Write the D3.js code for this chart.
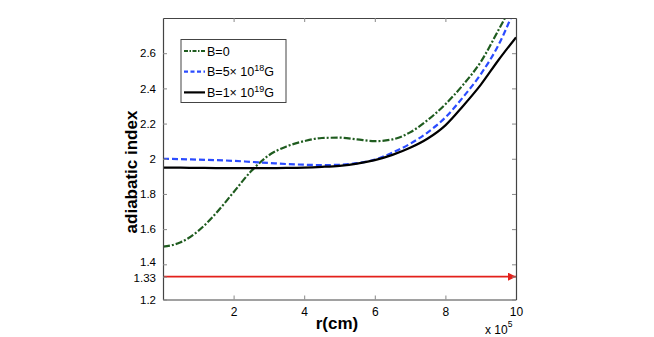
<!DOCTYPE html>
<html>
<head>
<meta charset="utf-8">
<script src="https://cdn.jsdelivr.net/npm/d3@7"></script>
<style>
  body { margin: 0; background: #fff; }
  svg { display: block; font-family: "Liberation Sans", Arial, sans-serif; }
  .tick text { font-size: 12px; fill: #000; }
  .tick line { stroke: #888; }
  .domain { stroke: #444; }
</style>
</head>
<body>
<div id="wrapper"></div>
<script>
// radius in units of 1e5 cm
const rValues = [0, 0.5, 1, 1.5, 2, 2.5, 3, 3.5, 4, 4.5, 5, 5.5, 6, 6.5, 7, 7.5, 8, 8.5, 9, 9.5, 10]

const gammaB0 = [1.50, 1.525, 1.59, 1.69, 1.81, 1.93, 2.02, 2.07, 2.10, 2.118, 2.12, 2.11, 2.10, 2.11, 2.15, 2.22, 2.31, 2.42, 2.55, 2.73, 2.92]
const gammaB5e18 = [2.00, 1.998, 1.995, 1.992, 1.988, 1.982, 1.976, 1.97, 1.966, 1.964, 1.966, 1.975, 1.995, 2.035, 2.085, 2.15, 2.235, 2.35, 2.48, 2.645, 2.87]
const gammaB1e19 = [1.95, 1.949, 1.948, 1.947, 1.947, 1.947, 1.947, 1.948, 1.95, 1.954, 1.96, 1.972, 1.992, 2.022, 2.062, 2.115, 2.19, 2.30, 2.42, 2.56, 2.69]

const relativisticGamma = 1.33

const xTicks = [2, 4, 6, 8, 10]
const yTicks = [1.2, 1.33, 1.4, 1.6, 1.8, 2, 2.2, 2.4, 2.6]
const yTickLabels = ["1.2", "1.33", "1.4", "1.6", "1.8", "2", "2.2", "2.4", "2.6"]

const seriesNames = ["B=0", "B=5× 10", "B=1× 10"]
const seriesSup = ["", "18", "19"]
const seriesUnit = ["", "G", "G"]

function drawChart() {

  // 1. Dimensions
  let dimensions = {
    width: 654,
    height: 337,
    margin: { top: 18, right: 138, bottom: 37.5, left: 163 },
  }
  dimensions.boundedWidth = dimensions.width - dimensions.margin.left - dimensions.margin.right
  dimensions.boundedHeight = dimensions.height - dimensions.margin.top - dimensions.margin.bottom

  const series = [
    { values: gammaB0, color: "#1f5c1f", dash: "7,2,2,2" },
    { values: gammaB5e18, color: "#2b4cff", dash: "6,3" },
    { values: gammaB1e19, color: "#000", dash: null },
  ]

  // 2. Canvas
  const wrapper = d3.select("#wrapper")
    .append("svg")
      .attr("width", dimensions.width)
      .attr("height", dimensions.height)

  const defs = wrapper.append("defs")
  defs.append("clipPath")
      .attr("id", "plot-clip")
    .append("rect")
      .attr("width", dimensions.boundedWidth)
      .attr("height", dimensions.boundedHeight)
  defs.append("marker")
      .attr("id", "arrow")
      .attr("viewBox", "0 0 10 10")
      .attr("refX", 10)
      .attr("refY", 5)
      .attr("markerWidth", 10)
      .attr("markerHeight", 8)
      .attr("markerUnits", "userSpaceOnUse")
      .attr("orient", "auto")
    .append("path")
      .attr("d", "M0,0 L10,5 L0,10 Z")
      .attr("fill", "#e3201b")

  const bounds = wrapper.append("g")
      .attr("transform", `translate(${dimensions.margin.left}, ${dimensions.margin.top})`)

  // 3. Scales
  const xScale = d3.scaleLinear()
    .domain([0, 10])
    .range([0, dimensions.boundedWidth])

  const yScale = d3.scaleLinear()
    .domain([1.2, 2.8])
    .range([dimensions.boundedHeight, 0])

  // 4. Data
  const lineGenerator = d3.line()
    .x((d, i) => xScale(rValues[i]))
    .y(d => yScale(d))
    .curve(d3.curveMonotoneX)

  const lines = bounds.append("g")
      .attr("clip-path", "url(#plot-clip)")

  series.forEach(s => {
    lines.append("path")
        .attr("d", lineGenerator(s.values))
        .attr("fill", "none")
        .attr("stroke", s.color)
        .attr("stroke-width", 2.2)
        .attr("stroke-dasharray", s.dash)
  })

  bounds.append("line")
      .attr("x1", xScale(0))
      .attr("x2", xScale(10))
      .attr("y1", yScale(relativisticGamma))
      .attr("y2", yScale(relativisticGamma))
      .attr("stroke", "#e3201b")
      .attr("stroke-width", 1.6)
      .attr("marker-end", "url(#arrow)")

  // 5. Axes (box with inward ticks)
  const tickLen = 4
  const xAxis = bounds.append("g")
      .attr("transform", `translate(0, ${dimensions.boundedHeight})`)
      .call(d3.axisBottom(xScale).tickValues(xTicks).tickSizeInner(-tickLen).tickSizeOuter(0).tickPadding(6))
  xAxis.selectAll(".tick text").attr("dy", "0.85em")

  bounds.append("g")
      .call(d3.axisTop(xScale).tickValues(xTicks).tickSizeInner(-tickLen).tickSizeOuter(0).tickFormat(""))

  const yAxis = bounds.append("g")
      .call(d3.axisLeft(yScale).tickValues(yTicks).tickSizeInner(-tickLen).tickSizeOuter(0).tickPadding(7)
        .tickFormat((d, i) => yTickLabels[i]))

  // 1.33 and 1.4 sit close together: nudge them apart a little
  yAxis.selectAll(".tick text")
      .style("font-size", "11.5px")
      .attr("dy", d => d == 1.4 ? "0.1em" : d == 1.33 ? "0.45em" : "0.32em")

  bounds.append("g")
      .attr("transform", `translate(${dimensions.boundedWidth}, 0)`)
      .call(d3.axisRight(yScale).tickValues(yTicks).tickSizeInner(-tickLen).tickSizeOuter(0).tickFormat(""))

  bounds.selectAll(".domain").attr("stroke-width", 1.2)

  // 6. Labels
  wrapper.append("text")
      .attr("x", 337)
      .attr("y", 329)
      .attr("text-anchor", "middle")
      .style("font-size", "17px")
      .style("font-weight", "bold")
      .text("r(cm)")

  const expLabel = wrapper.append("text")
      .attr("x", 485)
      .attr("y", 334)
      .style("font-size", "12px")
  expLabel.append("tspan").text("x 10")
  expLabel.append("tspan")
      .attr("dy", -7)
      .style("font-size", "8.5px")
      .text("5")

  wrapper.append("text")
      .attr("transform", "translate(137, 172) rotate(-90)")
      .attr("text-anchor", "middle")
      .style("font-size", "17px")
      .style("font-weight", "bold")
      .text("adiabatic index")

  // 7. Legend
  const legend = wrapper.append("g")
      .attr("transform", "translate(181, 39.5)")

  legend.append("rect")
      .attr("width", 105)
      .attr("height", 63)
      .attr("fill", "#fff")
      .attr("stroke", "#444")
      .attr("stroke-width", 1)

  series.forEach((s, i) => {
    const y = 11.5 + i * 20.7
    legend.append("line")
        .attr("x1", 3)
        .attr("x2", 24)
        .attr("y1", y)
        .attr("y2", y)
        .attr("stroke", s.color)
        .attr("stroke-width", 2.2)
        .attr("stroke-dasharray", s.dash ? (i == 0 ? "4,1.5,1.5,1.5" : "4,2.5") : null)

    const label = legend.append("text")
        .attr("x", 26)
        .attr("y", y + 4.5)
        .style("font-size", "12.5px")
    label.append("tspan").text(seriesNames[i])
    if (seriesSup[i]) {
      label.append("tspan")
          .attr("dy", -5)
          .style("font-size", "9px")
          .text(seriesSup[i])
      label.append("tspan")
          .attr("dy", 5)
          .text(seriesUnit[i])
    }
  })
}
drawChart()
</script>
</body>
</html>
